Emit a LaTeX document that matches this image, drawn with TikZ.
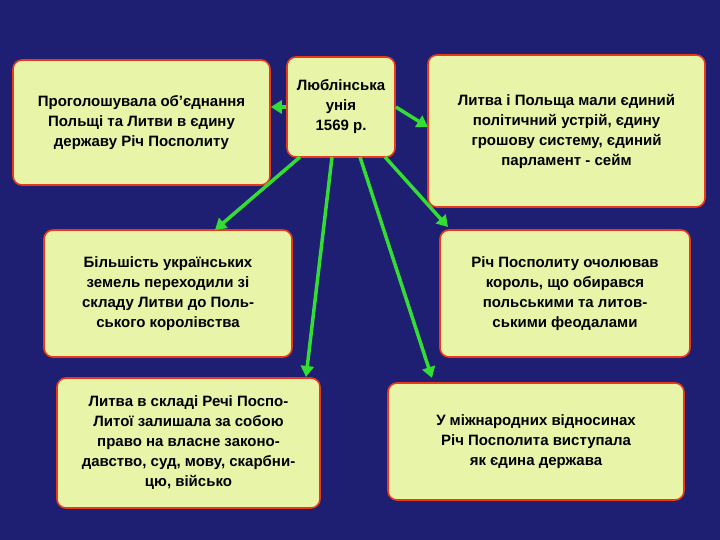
\documentclass[tikz,border=0pt]{standalone}
\usepackage{fontspec}
\setmainfont{Liberation Sans}
\usetikzlibrary{arrows.meta}
\definecolor{bg}{HTML}{1E1E72}
\definecolor{boxfill}{HTML}{E8F5A8}
\definecolor{boxline}{HTML}{E83A1A}
\definecolor{arr}{HTML}{33DD33}
\tikzset{
 box/.style={draw=boxline, line width=1.6pt, fill=boxfill, rounded corners=9pt, align=center, font=\fontsize{15}{20}\selectfont\bfseries, inner sep=2pt},
 arrow/.style={draw=arr, line width=3.5pt, -{Triangle[length=11pt,width=13pt]}}
}
\begin{document}
\begin{tikzpicture}[x=1pt,y=-1pt]
\fill[bg] (0,0) rectangle (720,540);
\node[box, minimum width=257pt, minimum height=125pt] (a) at (141.5,122.5) {Проголошувала об'єднання\\Польщі та Литви в єдину\\державу Річ Посполиту};
\node[box, minimum width=108pt, minimum height=100pt] (c) at (341,107) {Люблінська\\унія\\1569 р.};
\node[box, minimum width=277pt, minimum height=152pt] (b) at (566.5,131) {Литва і Польща мали єдиний\\політичний устрій, єдину\\грошову систему, єдиний\\парламент - сейм};
\node[box, minimum width=248pt, minimum height=127pt] (d) at (168,293.5) {Більшість українських\\земель переходили зі\\складу Литви до Поль-\\ського королівства};
\node[box, minimum width=250pt, minimum height=127pt] (e) at (565,293.5) {Річ Посполиту очолював\\король, що обирався\\польськими та литов-\\ськими феодалами};
\node[box, minimum width=263pt, minimum height=130pt] (f) at (188.5,443) {Литва в складі Речі Поспо-\\Литої залишала за собою\\право на власне законо-\\давство, суд, мову, скарбни-\\цю, військо};
\node[box, minimum width=296pt, minimum height=117pt] (g) at (536,441.5) {У міжнародних відносинах\\Річ Посполита виступала\\як єдина держава};
\draw[arrow] (c.west) -- (a.east |- c.west);
\draw[arrow] (c.east) -- (428,127);
\draw[arrow] (300,157) -- (215,230);
\draw[arrow] (332,157) -- (306,377);
\draw[arrow] (360,157) -- (432,378);
\draw[arrow] (385,157) -- (448,227);
\end{tikzpicture}
\end{document}
